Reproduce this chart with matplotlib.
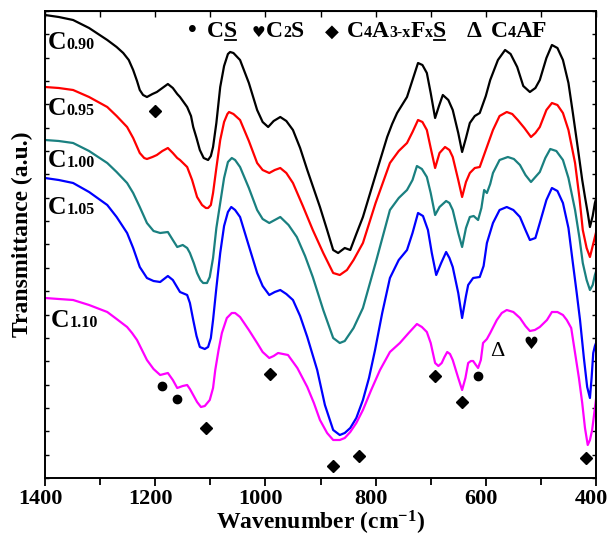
import matplotlib
matplotlib.use("Agg")
import matplotlib.pyplot as plt
from matplotlib.ticker import MultipleLocator
from matplotlib.lines import Line2D
from matplotlib.transforms import IdentityTransform, ScaledTranslation

plt.rcParams['font.family'] = 'Liberation Serif'
plt.rcParams['font.weight'] = 'bold'
plt.rcParams['mathtext.fontset'] = 'custom'
plt.rcParams['mathtext.rm'] = 'Liberation Serif:bold'
plt.rcParams['mathtext.bf'] = 'Liberation Serif:bold'
plt.rcParams['mathtext.it'] = 'Liberation Serif:bold'

# -------- FTIR SPECTRA (wavenumber cm-1, transmittance a.u.) --------
wn_090 = [1400, 1375, 1349, 1320, 1287, 1270, 1258, 1248, 1240, 1233, 1228, 1222, 1215, 1205, 1197,
          1187, 1177, 1168, 1160, 1155, 1142, 1135, 1131, 1125, 1119, 1112, 1104, 1099, 1095, 1089,
          1082, 1075, 1068, 1064, 1058, 1046, 1030, 1015, 1005, 995, 985, 973, 962, 950, 937,
          924, 901, 888, 877, 868, 856, 846, 835, 823, 800, 779, 770, 761, 752, 743,
          733, 723, 715, 707, 700, 692, 685, 678, 668, 660, 650, 643, 636, 629, 620,
          611, 600, 592, 578, 565, 555, 543, 532, 520, 510, 502, 490, 480, 470, 460,
          450, 442, 433, 425, 420, 415, 411, 406, 402, 398]
t_090 = [463, 461, 458, 450, 438, 431, 425, 418, 408, 397, 388, 383, 381, 384, 386,
         390, 394, 390, 384, 381, 371, 362, 351, 340, 328, 320, 318, 322, 331, 355,
         391, 412, 424, 426, 425, 418, 395, 368, 356, 351, 357, 361, 357, 348, 330,
         308, 271, 248, 228, 225, 230, 228, 244, 261, 303, 341, 354, 365, 373, 381,
         398, 415, 413, 405, 385, 360, 372, 383, 378, 368, 345, 326, 340, 355, 362,
         365, 382, 398, 418, 428, 424, 411, 392, 386, 390, 398, 420, 433, 430, 418,
         395, 365, 330, 298, 281, 265, 251, 262, 275, 283]

wn_095 = [1400, 1375, 1349, 1320, 1287, 1270, 1251, 1240, 1228, 1220, 1215, 1205, 1197, 1187, 1177,
          1168, 1160, 1155, 1142, 1133, 1124, 1115, 1108, 1104, 1099, 1095, 1089, 1082, 1075, 1069,
          1066, 1058, 1046, 1030, 1015, 1005, 993, 983, 973, 962, 950, 932, 914, 895, 877,
          865, 852, 840, 823, 800, 774, 758, 743, 733, 723, 715, 707, 700, 692, 684,
          674, 666, 660, 650, 643, 636, 629, 620, 611, 600, 587, 575, 562, 552, 542,
          530, 518, 510, 502, 490, 480, 470, 460, 450, 438, 430, 424, 417, 411, 406,
          402, 398]
t_095 = [391, 390, 388, 381, 371, 362, 351, 340, 325, 320, 319, 321, 323, 327, 330,
         325, 320, 318, 311, 298, 281, 273, 270, 270, 273, 285, 310, 338, 356, 364,
         366, 364, 358, 337, 315, 308, 305, 308, 310, 305, 295, 272, 248, 225, 205,
         203, 208, 218, 235, 275, 315, 327, 335, 346, 358, 356, 348, 330, 310, 325,
         331, 328, 321, 298, 281, 296, 305, 310, 311, 328, 348, 362, 366, 364, 358,
         350, 341, 345, 351, 368, 375, 373, 365, 348, 315, 280, 248, 230, 221, 232,
         241, 250]

wn_100 = [1400, 1375, 1349, 1320, 1287, 1270, 1251, 1240, 1228, 1215, 1203, 1191, 1177, 1168, 1160,
          1150, 1142, 1137, 1130, 1124, 1118, 1113, 1106, 1101, 1095, 1089, 1082, 1075, 1068, 1061,
          1055, 1046, 1030, 1015, 1005, 993, 983, 973, 958, 943, 928, 914, 895, 877, 865,
          856, 840, 823, 800, 774, 758, 743, 733, 725, 716, 707, 700, 692, 684, 672,
          666, 660, 650, 643, 636, 629, 622, 614, 608, 603, 598, 592, 587, 575, 560,
          549, 538, 528, 518, 510, 502, 492, 483, 472, 460, 450, 438, 430, 424, 417,
          411, 406, 402, 398]
t_100 = [338, 337, 335, 327, 315, 306, 295, 285, 271, 255, 247, 245, 246, 238, 231,
         233, 230, 225, 215, 205, 198, 195, 195, 201, 220, 250, 275, 300, 316, 320,
         318, 311, 290, 268, 259, 255, 258, 261, 253, 241, 222, 201, 168, 140, 135,
         137, 150, 170, 215, 268, 280, 288, 298, 312, 309, 301, 285, 263, 271, 277,
         275, 268, 245, 231, 250, 261, 262, 258, 270, 288, 285, 294, 305, 318, 321,
         319, 313, 303, 296, 301, 306, 320, 329, 327, 318, 300, 268, 240, 215, 198,
         188, 193, 203, 210]

wn_105 = [1400, 1375, 1349, 1320, 1287, 1270, 1251, 1240, 1228, 1215, 1203, 1191, 1177, 1168, 1155,
          1142, 1137, 1131, 1125, 1119, 1110, 1104, 1099, 1095, 1089, 1082, 1075, 1068, 1062, 1055,
          1046, 1030, 1015, 1005, 993, 983, 973, 962, 950, 937, 924, 906, 892, 877, 865,
          856, 846, 835, 823, 812, 801, 788, 774, 758, 743, 733, 723, 714, 705, 698,
          690, 681, 672, 666, 660, 650, 643, 636, 632, 623, 611, 604, 598, 587, 575,
          562, 550, 538, 528, 520, 510, 502, 490, 480, 470, 460, 450, 442, 435, 429,
          422, 416, 411, 408, 405, 402, 398]
t_105 = [300, 298, 295, 286, 273, 261, 245, 230, 211, 200, 197, 196, 202, 198, 186,
         183, 175, 158, 142, 131, 129, 131, 140, 158, 190, 225, 252, 266, 271, 268,
         261, 232, 205, 192, 183, 186, 188, 184, 178, 162, 141, 108, 73, 48, 43,
         45, 50, 60, 78, 100, 128, 165, 200, 218, 228, 245, 265, 262, 248, 225,
         203, 215, 226, 220, 211, 185, 160, 182, 193, 200, 201, 212, 235, 255, 268,
         271, 268, 261, 248, 238, 240, 255, 278, 290, 287, 275, 250, 215, 185, 158,
         120, 91, 80, 100, 125, 132, 138]

wn_110 = [1400, 1375, 1349, 1320, 1287, 1270, 1251, 1242, 1233, 1224, 1215, 1203, 1191, 1184, 1177,
          1168, 1160, 1150, 1142, 1137, 1131, 1124, 1117, 1110, 1101, 1095, 1091, 1085, 1079, 1070,
          1061, 1055, 1046, 1030, 1015, 1005, 993, 985, 977, 968, 959, 942, 924, 912, 901,
          888, 877, 865, 856, 846, 835, 823, 808, 792, 774, 756, 740, 725, 716, 707,
          700, 692, 686, 680, 675, 670, 665, 660, 650, 643, 637, 632, 627, 623, 618,
          614, 609, 605, 598, 592, 580, 571, 562, 550, 538, 528, 520, 511, 502, 489,
          480, 470, 460, 453, 445, 438, 431, 425, 420, 415, 411, 407, 402, 398]
t_110 = [180, 179, 178, 173, 166, 159, 151, 145, 138, 128, 118, 109, 103, 104, 105,
         98, 90, 92, 93, 89, 83, 76, 71, 72, 78, 90, 108, 128, 145, 160,
         165, 165, 161, 148, 135, 126, 120, 122, 125, 124, 123, 110, 91, 75, 58,
         45, 38, 38, 40, 46, 55, 68, 88, 108, 126, 135, 145, 154, 151, 146,
         135, 115, 112, 115, 121, 126, 124, 118, 100, 88, 100, 115, 117, 117, 113,
         110, 118, 135, 139, 145, 158, 165, 168, 166, 160, 152, 147, 148, 151, 158,
         166, 166, 163, 158, 150, 125, 100, 75, 50, 33, 38, 48, 70, 88]

spectra = [(wn_090, t_090, 'black'), (wn_095, t_095, 'red'), (wn_100, t_100, '#1a8080'),
           (wn_105, t_105, 'blue'), (wn_110, t_110, '#ff00ff')]

# phase markers: C4A3-xFxS (diamond), CS (dot), C2S (heart), C4AF (delta)
diamond_wn = [1200, 1108, 992, 877, 830, 692, 643, 418]
diamond_t = [367, 50, 104, 12, 22, 102, 76, 20]
dot_wn = [1188, 1160, 614]
dot_t = [92, 79, 102]
heart_wn = [518]
heart_t = [134]
delta_wn = [580]
delta_t = [126]

W, H = 609, 541
fig = plt.figure(figsize=(W / 100, H / 100), dpi=100)
ax = fig.add_axes([45 / W, 1 - 478 / H, 551 / W, 467 / H])

for wn, t, c in spectra:
    ax.plot(wn, t, color=c, lw=1.6, solid_joinstyle='round')

ax.plot(diamond_wn, diamond_t, 'D', color='black', ms=6.5, clip_on=False)
ax.plot(dot_wn, dot_t, 'o', color='black', ms=6)
for w, t in zip(heart_wn, heart_t):
    ax.text(w, t, '\u2665', family='DejaVu Sans', fontsize=12, ha='center', va='center')
for w, t in zip(delta_wn, delta_t):
    ax.text(w, t, '\u0394', fontsize=16, fontweight='normal', ha='center', va='center')

ax.set_xlim(1400, 400)
ax.set_ylim(0, 467)
for s in ax.spines.values():
    s.set_linewidth(1.4)

ax.xaxis.set_major_locator(MultipleLocator(200))
ax.xaxis.set_minor_locator(MultipleLocator(100))
ax.tick_params(axis='x', which='major', direction='out', length=6, width=1.3, labelsize=16, pad=2)
ax.tick_params(axis='x', which='minor', direction='out', length=5, width=1.3)
ax.yaxis.set_major_locator(MultipleLocator(467 / 20))
ax.tick_params(axis='y', which='major', direction='in', length=3, width=1, left=True, right=True,
               labelleft=False)
top = ax.secondary_xaxis('top')
top.xaxis.set_major_locator(MultipleLocator(100))
top.tick_params(direction='in', length=4, width=1, labeltop=False)
shift = ScaledTranslation(-5 / 100, 0, fig.dpi_scale_trans)
for lab in ax.get_xticklabels():
    lab.set_fontweight('bold')
    lab.set_transform(lab.get_transform() + shift)

ax.set_xlabel('Wavenumber (cm$^{-1}$)', fontsize=17, fontweight='bold', labelpad=0)
fig.text(22 / W, 1 - 234 / H, 'Transmittance (a.u.)', rotation=90, fontsize=17,
         fontweight='bold', ha='center', va='center')

# -------- TEXT LABELS WITH SUBSCRIPTS --------
fig.canvas.draw()
rend = fig.canvas.get_renderer()


def put_pieces(x, y, pieces):
    # x: left edge, y: baseline, both in pixels from the top-left corner
    for p in pieces:
        s, size = p[0], p[1]
        ul = len(p) > 2 and p[2]
        fam = p[3] if len(p) > 3 else 'Liberation Serif'
        t = fig.text(x, H - y, s, transform=IdentityTransform(), fontsize=size,
                     fontweight='bold', family=fam, ha='left', va='baseline')
        bb = t.get_window_extent(rend)
        if ul:
            fig.add_artist(Line2D([bb.x0 + 1, bb.x1 - 1], [H - y - 2.5] * 2,
                                  transform=IdentityTransform(), color='black', lw=1.3))
        x = bb.x1


sample_labels = ['0.90', '0.95', '1.00', '1.05', '1.10']
label_pos = [(48, 49), (48, 115), (48, 167), (48, 214), (51, 327)]
for sub, (lx, ly) in zip(sample_labels, label_pos):
    put_pieces(lx, ly, [('C', 18.5), (sub, 11.5)])

put_pieces(188, 37, [('\u2022', 18)])
put_pieces(207, 37, [('C', 17), ('S', 17, True)])
put_pieces(252, 37, [('\u2665', 11, False, 'DejaVu Sans')])
put_pieces(266, 37, [('C', 17), ('2', 11.5), ('S', 17)])
put_pieces(325, 37, [('\u25c6', 13, False, 'DejaVu Sans')])
put_pieces(347, 37, [('C', 17), ('4', 11.5), ('A', 17), ('3-x', 11.5), ('F', 17),
                     ('x', 11.5), ('S', 17, True)])
put_pieces(467, 37, [('\u0394', 17)])
put_pieces(491, 37, [('C', 17), ('4', 11.5), ('AF', 17)])

fig.savefig('out.png', dpi=100)
